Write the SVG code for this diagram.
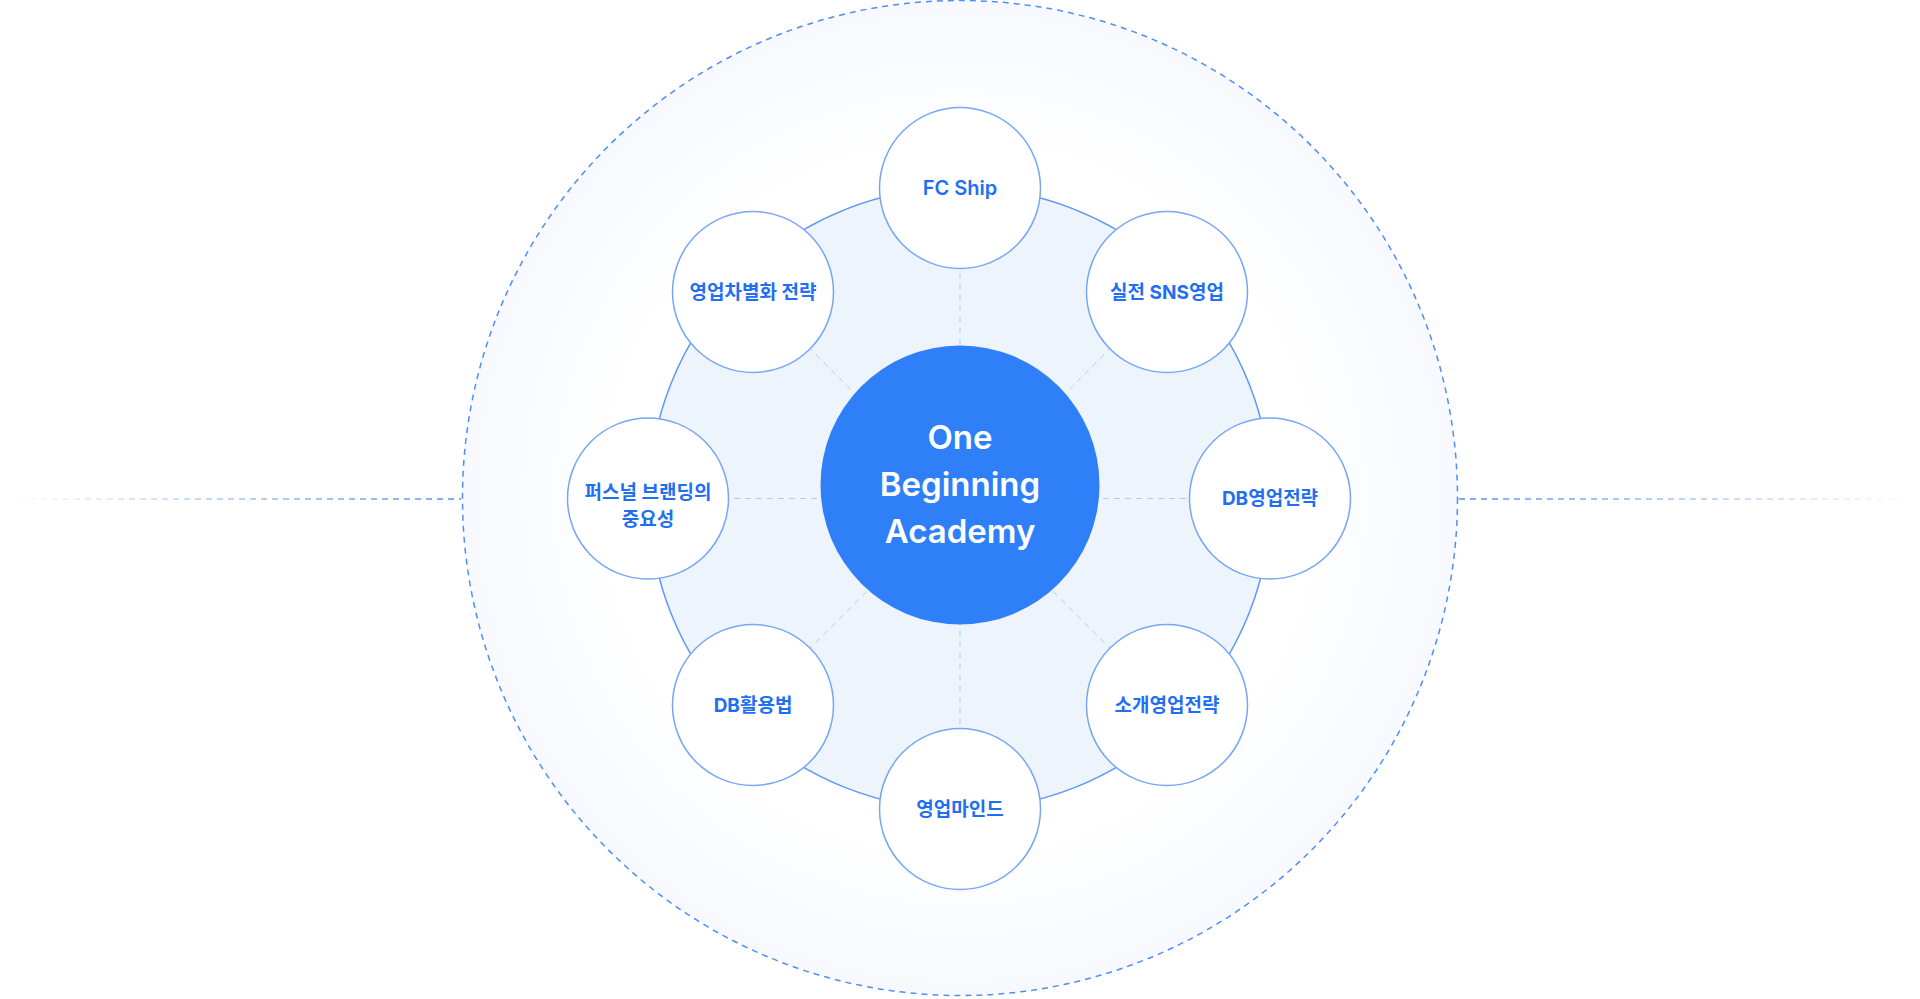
<svg xmlns="http://www.w3.org/2000/svg" width="1920" height="999" viewBox="0 0 1920 999">
<defs>
<radialGradient id="bgGrad" cx="960" cy="498" r="498" gradientUnits="userSpaceOnUse">
<stop offset="0" stop-color="#ffffff"/>
<stop offset="0.7" stop-color="#ffffff"/>
<stop offset="1" stop-color="#f7f9fe"/>
</radialGradient>
<linearGradient id="fadeL" x1="0" y1="0" x2="461" y2="0" gradientUnits="userSpaceOnUse">
<stop offset="0" stop-color="#4d8ff7" stop-opacity="0"/>
<stop offset="1" stop-color="#4d8ff7" stop-opacity="1"/>
</linearGradient>
<linearGradient id="fadeR" x1="1459" y1="0" x2="1920" y2="0" gradientUnits="userSpaceOnUse">
<stop offset="0" stop-color="#4d8ff7" stop-opacity="1"/>
<stop offset="1" stop-color="#4d8ff7" stop-opacity="0"/>
</linearGradient>
<style>
.outer{fill:url(#bgGrad);stroke:#4d8ff7;stroke-width:1.5;stroke-dasharray:6 5}
.hline{stroke-width:1.5;stroke-dasharray:6 5;fill:none}
.ring{fill:#eef4fc;stroke:#5e98f6;stroke-width:1.5}
.spoke{stroke:#b3cbf3;stroke-width:1;stroke-dasharray:6 5;fill:none}
.node circle{fill:#ffffff;stroke:#77a6f6;stroke-width:1.5}
.node text{font-family:Inter,"Noto Sans CJK KR",sans-serif;font-size:19px;font-weight:700;fill:#1f6ff2;text-anchor:middle;dominant-baseline:central}
.node text.en{font-size:20px;font-weight:600}
.core circle{fill:#2e7ff8}
.core text{font-family:Inter,"Noto Sans CJK KR",sans-serif;font-size:33px;font-weight:600;fill:#ffffff;text-anchor:middle;dominant-baseline:central}
</style>
</defs>
<rect width="1920" height="999" fill="#ffffff"/>
<g id="background">
<circle class="outer" cx="960" cy="498" r="497.5"/>
<line class="hline" x1="8" y1="499" x2="461" y2="499" stroke="url(#fadeL)"/>
<line class="hline" x1="1459" y1="499" x2="1912" y2="499" stroke="url(#fadeR)"/>
<circle class="ring" cx="960" cy="498.5" r="311"/>
</g>
<g id="connectors">
<line class="spoke" x1="960" y1="498.5" x2="960" y2="188"/>
<line class="spoke" x1="960" y1="498.5" x2="1167" y2="292"/>
<line class="spoke" x1="960" y1="498.5" x2="1270" y2="498.5"/>
<line class="spoke" x1="960" y1="498.5" x2="1167" y2="705"/>
<line class="spoke" x1="960" y1="498.5" x2="960" y2="809"/>
<line class="spoke" x1="960" y1="498.5" x2="753" y2="705"/>
<line class="spoke" x1="960" y1="498.5" x2="648" y2="498.5"/>
<line class="spoke" x1="960" y1="498.5" x2="753" y2="292"/>
</g>
<g id="core" class="core">
<circle cx="960" cy="485" r="139.5"/>
<text x="960" y="437">One</text>
<text x="960" y="484">Beginning</text>
<text x="960" y="531">Academy</text>
</g>
<g id="node-fcship" class="node">
<circle cx="960" cy="188" r="80.5"/>
<text class="en" x="960" y="188">FC Ship</text>
</g>
<g id="node-sns" class="node">
<circle cx="1167" cy="292" r="80.5"/>
<text x="1167" y="292">실전 SNS영업</text>
</g>
<g id="node-db-strategy" class="node">
<circle cx="1270" cy="498.5" r="80.5"/>
<text x="1270" y="498.5">DB영업전략</text>
</g>
<g id="node-referral" class="node">
<circle cx="1167" cy="705" r="80.5"/>
<text x="1167" y="705">소개영업전략</text>
</g>
<g id="node-mind" class="node">
<circle cx="960" cy="809" r="80.5"/>
<text x="960" y="809">영업마인드</text>
</g>
<g id="node-db-use" class="node">
<circle cx="753" cy="705" r="80.5"/>
<text x="753" y="705">DB활용법</text>
</g>
<g id="node-branding" class="node">
<circle cx="648" cy="498.5" r="80.5"/>
<text x="648" y="492">퍼스널 브랜딩의</text>
<text x="648" y="519">중요성</text>
</g>
<g id="node-differentiation" class="node">
<circle cx="753" cy="292" r="80.5"/>
<text x="753" y="292">영업차별화 전략</text>
</g>
</svg>
